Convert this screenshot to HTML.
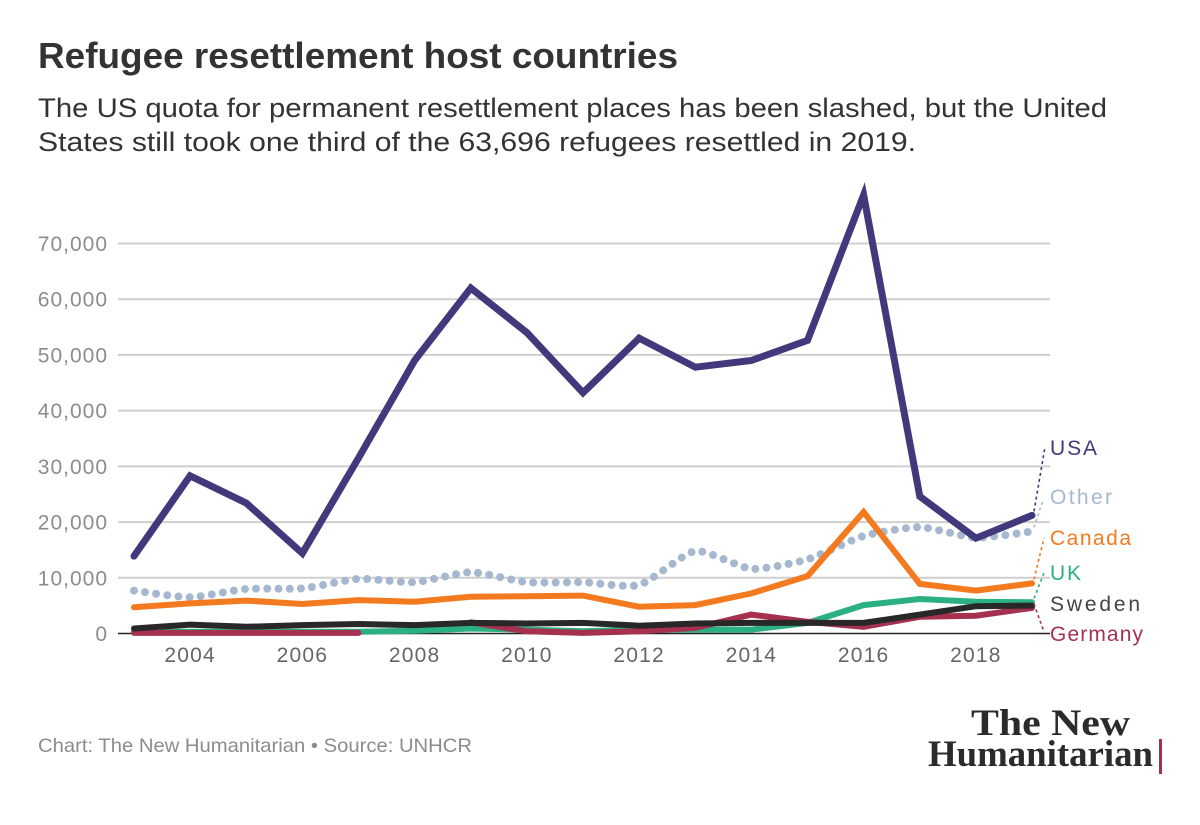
<!DOCTYPE html>
<html lang="en">
<head>
<meta charset="utf-8">
<title>Refugee resettlement host countries</title>
<style>
html,body{margin:0;padding:0;background:#fff;width:1200px;height:825px;overflow:hidden}
svg{display:block}
text{font-family:"Liberation Sans",sans-serif}
</style>
</head>
<body>
<svg id="chart" width="1200" height="825" viewBox="0 0 1200 825" xmlns="http://www.w3.org/2000/svg">
  <rect width="1200" height="825" fill="#fff"/>
  <text x="38" y="68" font-size="36" font-weight="700" fill="#333" textLength="640" lengthAdjust="spacingAndGlyphs">Refugee resettlement host countries</text>
  <text x="38" y="117" font-size="27" fill="#333" textLength="1069" lengthAdjust="spacingAndGlyphs">The US quota for permanent resettlement places has been slashed, but the United</text>
  <text x="38" y="151" font-size="27" fill="#333" textLength="878" lengthAdjust="spacingAndGlyphs">States still took one third of the 63,696 refugees resettled in 2019.</text>
  <g id="grid"></g>
  <g id="yticks"></g>
  <g id="xticks"></g>
  <g id="series"></g>
  <g id="labels"></g>
  <text x="38" y="752" font-size="19.5" fill="#8c8c8c" textLength="434" lengthAdjust="spacingAndGlyphs">Chart: The New Humanitarian • Source: UNHCR</text>
  <g>
    <text x="971" y="735" font-size="37" font-weight="700" fill="#2b2b2b" style="font-family:'Liberation Serif',serif" textLength="159" lengthAdjust="spacingAndGlyphs">The New</text>
    <text x="928" y="766" font-size="37" font-weight="700" fill="#2b2b2b" style="font-family:'Liberation Serif',serif" textLength="225" lengthAdjust="spacingAndGlyphs">Humanitarian</text>
    <rect x="1159" y="739" width="3" height="35" fill="#a5304f"/>
  </g>
</svg>
<script>
const years = [2003,2004,2005,2006,2007,2008,2009,2010,2011,2012,2013,2014,2015,2016,2017,2018,2019];
const xTickYears = [2004,2006,2008,2010,2012,2014,2016,2018];
const yTickValues = [0,10000,20000,30000,40000,50000,60000,70000];
const usaValues = [13900,28300,23400,14400,31500,49000,62000,54000,43200,53000,47800,49000,52600,78700,24600,17100,21200];
const otherValues = [7700,6500,8000,8100,9800,9200,11000,9200,9200,8700,14800,11600,13300,17500,19100,17200,18300];
const canadaValues = [4700,5400,5900,5300,6000,5700,6600,6700,6800,4800,5100,7200,10300,21800,8900,7700,9000];
const ukValues = [300,300,300,300,300,500,900,700,400,700,700,700,1900,5100,6200,5700,5600];
const germanyValues = [100,100,100,100,100,null,2000,400,100,400,1000,3400,2100,1200,3000,3200,4600];
const swedenValues = [900,1600,1200,1500,1700,1500,1900,1800,1900,1400,1800,1900,1900,1900,3400,4900,5000];

const svgNS = 'http://www.w3.org/2000/svg';
const xScale = y => 134 + (y - 2003) * (1032 - 134) / 16;
const yScale = v => 633.5 - v * (390 / 70000);

function make(tag, attrs, parent, text) {
  const el = document.createElementNS(svgNS, tag);
  for (const k in attrs) el.setAttribute(k, attrs[k]);
  if (text !== undefined) el.textContent = text;
  parent.appendChild(el);
  return el;
}

const grid = document.getElementById('grid');
const yticks = document.getElementById('yticks');
yTickValues.forEach(v => {
  const line = make('line', {x1:118, x2:1050, y1:yScale(v), y2:yScale(v), stroke: v === 0 ? '#222' : '#cfcfcf', 'stroke-width': v === 0 ? 1.5 : 2}, grid);
  
  
  const t = make('text', {x:108, y:yScale(v) + 7.5, 'text-anchor':'end', 'font-size':21, fill:'#8c8c8c', 'letter-spacing':'1'}, yticks, v.toLocaleString('en-US'));
  
  
});

const xticks = document.getElementById('xticks');
xTickYears.forEach(y => {
  const t = make('text', {x:xScale(y), y:662, 'text-anchor':'middle', 'font-size':21, fill:'#666', 'letter-spacing':'1.2'}, xticks, y);
  
  
});

function pathFor(values) {
  let d = '', pen = false;
  values.forEach((v, i) => {
    if (v === null) { pen = false; return; }
    d += (pen ? 'L' : 'M') + xScale(years[i]).toFixed(1) + ' ' + yScale(v).toFixed(1);
    pen = true;
  });
  return d;
}

function smoothPathFor(values) {
  const pts = values.map((v, i) => [xScale(years[i]), yScale(v)]);
  let d = 'M' + pts[0][0].toFixed(1) + ' ' + pts[0][1].toFixed(1);
  for (let i = 0; i < pts.length - 1; i++) {
    const p0 = pts[Math.max(i - 1, 0)], p1 = pts[i], p2 = pts[i + 1], p3 = pts[Math.min(i + 2, pts.length - 1)];
    const k = 0.1;
    d += 'C' + (p1[0] + (p2[0] - p0[0]) * k).toFixed(1) + ' ' + (p1[1] + (p2[1] - p0[1]) * k).toFixed(1) + ' ' +
         (p2[0] - (p3[0] - p1[0]) * k).toFixed(1) + ' ' + (p2[1] - (p3[1] - p1[1]) * k).toFixed(1) + ' ' +
         p2[0].toFixed(1) + ' ' + p2[1].toFixed(1);
  }
  return d;
}

const seriesGroup = document.getElementById('series');
const labelsGroup = document.getElementById('labels');

function drawSeries(name, d, color, width, dash) {
  const attrs = {d:d, fill:'none', stroke:color, 'stroke-width':width, 'stroke-linejoin':'miter', 'stroke-linecap':'round'};
  if (dash) attrs['stroke-dasharray'] = dash;
  const p = make('path', attrs, seriesGroup);
  
  
}

drawSeries('line-other', smoothPathFor(otherValues), '#a5b8d0', 8, '0 11.2');
drawSeries('line-usa', pathFor(usaValues), '#41397b', 7);
drawSeries('line-canada', pathFor(canadaValues), '#f47a1f', 6);
drawSeries('line-uk', pathFor(ukValues), '#2bb081', 6);
drawSeries('line-germany', pathFor(germanyValues), '#a5304f', 6);
drawSeries('line-sweden', pathFor(swedenValues), '#282828', 6);

function drawLabel(name, text, color, baseline, width, lastValue, endX, endY) {
  const t = make('text', {x:1050, y:baseline, 'font-size':21, fill:color, textLength:width, lengthAdjust:'spacing'}, labelsGroup, text);
  
  
  if (endX !== null) {
    const l = make('line', {x1:xScale(2019) + 2, y1:yScale(lastValue) - 4, x2:endX, y2:endY, stroke:color, 'stroke-width':1.6, 'stroke-dasharray':'3 3'}, labelsGroup);
    
    
  }
}

drawLabel('label-usa', 'USA', '#41397b', 455, 47, usaValues[16], 1045, 447);
drawLabel('label-other', 'Other', '#a5b8d0', 504, 62, otherValues[16], 1043, 500);
drawLabel('label-canada', 'Canada', '#f47a1f', 545, 81, canadaValues[16], 1044, 538);
drawLabel('label-uk', 'UK', '#2bb081', 580, 31, ukValues[16], 1044, 573);
drawLabel('label-sweden', 'Sweden', '#444', 611, 90, swedenValues[16], null, null);
drawLabel('label-germany', 'Germany', '#a5304f', 641, 93, germanyValues[16], 1044, 632);
</script>
</body>
</html>
